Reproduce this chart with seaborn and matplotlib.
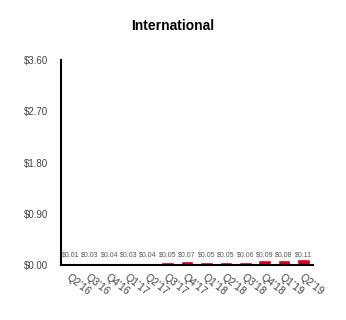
import matplotlib
matplotlib.use("Agg")
import matplotlib.pyplot as plt
import seaborn as sns
import pandas as pd

quarters = ["Q2'16", "Q3'16", "Q4'16", "Q1'17", "Q2'17", "Q3'17", "Q4'17",
            "Q1'18", "Q2'18", "Q3'18", "Q4'18", "Q1'19", "Q2'19"]
values = [0.01, 0.03, 0.04, 0.03, 0.04, 0.05, 0.07, 0.05, 0.05, 0.06, 0.09, 0.08, 0.11]
yticks = [0.0, 0.9, 1.8, 2.7, 3.6]

sns.set_theme(style="white")
plt.rcParams['font.family'] = ['Liberation Sans', 'DejaVu Sans']

df = pd.DataFrame({"q": quarters, "v": values})
fig = plt.figure(figsize=(3.46, 3.2), dpi=100)
ax = fig.add_axes([0.176, 0.172, 0.729, 0.640])
sns.barplot(data=df, x="q", y="v", color="#d0021b", width=0.65, ax=ax, saturation=1)
ax.set_ylim(0, 3.6)
ax.set_xlim(-0.5, len(quarters) - 0.5)
ax.set_yticks(yticks)
ax.set_yticklabels([f"${t:.2f}" for t in yticks], color="#444444", fontsize=7)
ax.set_xticks(range(len(quarters)))
ax.set_xticklabels(quarters, rotation=-38, ha="left", rotation_mode="anchor",
                   fontsize=7.5, color="#444444")
ax.tick_params(axis="y", length=0, pad=9)
ax.tick_params(axis="x", length=0, pad=5)
ax.set_xlabel("")
ax.set_ylabel("")
for s in ["top", "right"]:
    ax.spines[s].set_visible(False)
for s in ["left", "bottom"]:
    ax.spines[s].set_color("black")
    ax.spines[s].set_linewidth(1.5)
for i, v in enumerate(values):
    ax.text(i, 0.12, f"${v:.2f}", ha="center", va="bottom", fontsize=5, color="#555555")
fig.text(0.5, 0.92, "International", ha="center", va="center", fontsize=10,
         fontweight="bold", color="black")
fig.savefig("out.png", dpi=100)
